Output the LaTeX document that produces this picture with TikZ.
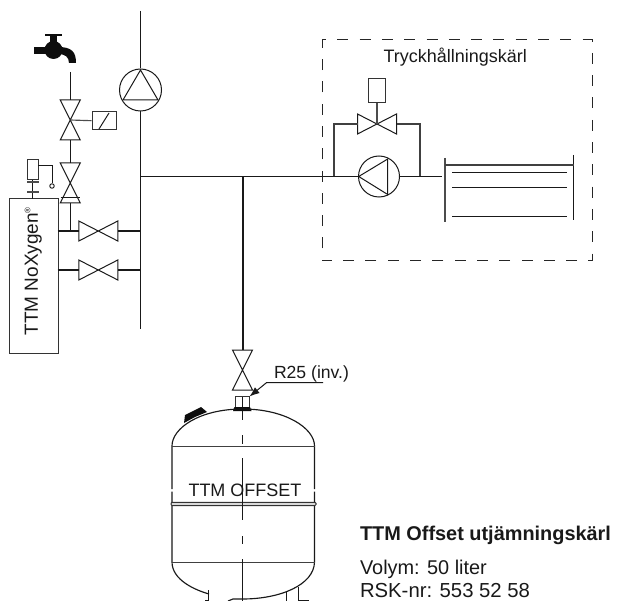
\documentclass[tikz,border=0pt]{standalone}
\usepackage{fontspec}
\setmainfont{Liberation Sans}
\usetikzlibrary{arrows.meta}
\tikzset{
  x=1pt,y=-1pt,
  ln/.style={line width=1.15pt,draw=black!90},
  thin ln/.style={line width=1pt,draw=black!90},
  box ln/.style={draw=black!80,line width=1pt,inner sep=0pt},
  txt/.style={inner sep=0pt,outer sep=0pt,text=black!90},
  vvalve/.pic={
    \draw[thin ln,line join=miter] (-10,-20) -- (10,-20) -- (-10,20) -- (10,20) -- cycle;
    \coordinate (top) at (0,-20);
    \coordinate (bot) at (0,20);
    \coordinate (c) at (0,0);
  },
  hvalve/.pic={
    \draw[thin ln,line join=miter] (-19.5,-10) -- (-19.5,10) -- (19.5,-10) -- (19.5,10) -- cycle;
    \coordinate (l) at (-19.5,0);
    \coordinate (r) at (19.5,0);
    \coordinate (c) at (0,0);
  }
}
\begin{document}
\begin{tikzpicture}
\useasboundingbox (0,0) rectangle (620,601);
% junctions
\coordinate (pipeTop) at (140.5,11);
\coordinate (pipeBot) at (140.5,329);
\coordinate (jMain) at (140.5,176.5);
\coordinate (jBranch) at (242.5,176.5);
\coordinate (jLeft) at (334,176.5);
\coordinate (jRight) at (420,176.5);
\coordinate (tankIn) at (441.5,176.5);
\coordinate (tapEnd) at (70.3,72);
\coordinate (jUpper) at (70.3,231);
\coordinate (boxU) at (57.5,231);
\coordinate (boxL) at (57.5,270);
\coordinate (mU) at (140.5,231);
\coordinate (mL) at (140.5,270);
% circulation pump
\node[circle,draw=black!90,line width=1pt,minimum size=42pt,inner sep=0pt] (p1) at (140.5,90) {};
\draw[thin ln,line join=miter] (140.5,70) -- (123,100) -- (158,100) -- cycle;
\draw[ln] (pipeTop) -- (p1.north);
\draw[ln] (p1.south) -- (pipeBot);
% tap
\fill[black!95] (45,34) rectangle (62,36);
\fill[black!95] (50,36) rectangle (57,45);
\fill[black!95] (53.5,50) circle (9);
\fill[black!95] (34,47) rectangle (48,54);
\fill[black!95] (58,47) .. controls (72,47) and (76,52) .. (76,63) -- (69,63) .. controls (69,57) and (65,54) .. (58,54) -- cycle;
% valves left
\pic (v1) at (70.3,120) {vvalve};
\pic (v2) at (70.3,183) {vvalve};
\draw[thin ln] (60.5,197.7) -- (80,197.7);
\draw[ln] (tapEnd) -- (v1top);
\draw[ln] (v1bot) -- (v2top);
\draw[ln] (v2bot) -- (jUpper);
\node[box ln,minimum width=24pt,minimum height=17.5pt] (act) at (104,120.7) {};
\draw[ln,black!70] (v1c) -- (act.west);
\draw[thin ln] (99,129) -- (109,113);
% NoXygen
\node[box ln,minimum width=49pt,minimum height=154pt] (nox) at (33.5,276) {};
\node[txt,rotate=90,anchor=base west,font=\fontsize{19}{19}\selectfont] (noxt) at (37.8,335.5) {TTM NoXygen\raisebox{7.5pt}{\fontsize{8}{8}\selectfont ®}};
\pic (v3) at (98.3,231) {hvalve};
\pic (v4) at (98.3,270) {hvalve};
\draw[ln] (boxU) -- (v3l);
\draw[ln] (v3r) -- (mU);
\draw[ln] (boxL) -- (v4l);
\draw[ln] (v4r) -- (mL);
% sensor
\node[box ln,minimum width=11pt,minimum height=20pt] (sens) at (32.8,170) {};
\node[circle,draw=black!90,line width=0.9pt,minimum size=4.5pt,inner sep=0pt] (bulb) at (52,186) {};
\coordinate (sensR) at (38.3,165.5);
\coordinate (sensK) at (52,165.5);
\coordinate (stemB) at (32.8,199);
\draw[thin ln] (sensR) -- (sensK) -- (bulb.north);
\draw[ln] (sens.south) -- (stemB);
\draw[ln,black!70] (27,182) -- (38.5,182);
\draw[ln,black!70] (27,192) -- (38.5,192);
% main line
\draw[ln] (jMain) -- (358.5,176.5);
% dashed box
\draw[line width=1pt,draw=black!85,dash pattern=on 11pt off 11.3pt] (322,47) -- (322,40) -- (592,40) -- (592,261) -- (322,261) -- cycle;
\node[txt,anchor=base west,font=\fontsize{18}{18}\selectfont] (title) at (383.5,63) {Tryckhållningskärl};
% pressure pump
\node[circle,draw=black!90,line width=1pt,minimum size=41pt,inner sep=0pt] (p2) at (379,176.5) {};
\draw[thin ln,line join=miter] (358.7,176.5) -- (387.7,159) -- (387.7,194.5) -- cycle;
\draw[ln] (p2.east) -- (tankIn);
\pic (v5) at (377,124) {hvalve};
\draw[ln,black!75] (jLeft) |- (v5l);
\draw[ln,black!75] (jRight) |- (v5r);
\node[box ln,minimum width=17.5pt,minimum height=24pt] (ctrl) at (377,91) {};
\draw[ln,black!70] (ctrl.south) -- (v5c);
% tank
\coordinate (tl1) at (445,158);
\coordinate (tl2) at (445,222);
\coordinate (tr1) at (573.7,155);
\coordinate (tr2) at (573.7,220);
\draw[ln,black!70] (tl1) -- (tl2);
\draw[ln] (tr1) -- (tr2);
\draw[ln,black!75] (445,165) -- (573.7,165);
\draw[ln] (452,172.3) -- (567,172.3);
\draw[ln] (452,187.3) -- (567,187.3);
\draw[ln] (452,216.3) -- (567,216.3);
% branch
\pic (v6) at (242.5,370) {vvalve};
\draw[line width=2pt,draw=black!90] (jBranch) -- (v6top);
% fitting
\node[box ln,minimum width=13.5pt,minimum height=11pt] (fit) at (242.5,402) {};
\draw[thin ln] (242.5,397) -- (242.5,407);
\fill[black!95] (233,411) -- (234.5,407) -- (250,407) -- (251.5,411) -- cycle;
% label R25
\node[txt,anchor=base west,font=\fontsize{17.6}{17.6}\selectfont] (r25) at (274,378.5) {R25 (inv.)};
\coordinate (la) at (323,382.5);
\coordinate (lb) at (266.7,382.5);
\draw[thin ln,-{Latex[length=10pt,width=7.5pt]}] (la) -- (lb) -- (249.5,396.5);
% vessel
\fill[black!95] (184,423) -- (185,415) -- (201,407) -- (207,412) -- (195,417) -- cycle;
\draw[ln] (172,489) -- (172,446) .. controls (172,428) and (200,409) .. (242.5,409) .. controls (285,409) and (314.5,428) .. (314.5,446) -- (314.5,489);
\draw[thin ln,black!75] (172,446) -- (314.5,446);
\draw[ln] (172,491.5) -- (172,562) .. controls (172,580) and (195,590) .. (209,594);
\draw[ln] (314.5,491.5) -- (314.5,562) .. controls (314,585) and (280,599) .. (242.5,599) -- (233,599) -- (228,601);
\draw[thin ln,black!75] (172,562) -- (314.5,562);
\draw[line width=1pt,draw=black!80,fill=black!15,rounded corners=1pt] (171,502.3) rectangle (316,505.5);
\draw[ln] (208.5,590) -- (208.5,601);
\draw[ln] (205,600.5) -- (208.5,600.5);
\draw[thin ln] (286,591) -- (286,601);
\draw[thin ln] (298,587) -- (298,601);
\draw[thin ln] (298,600.3) -- (309,600.3);
% centre line
\draw[thin ln] (242.5,411) -- (242.5,420);
\draw[thin ln] (242.5,435) -- (242.5,444);
\draw[thin ln] (242.5,458) -- (242.5,520);
\draw[thin ln] (242.5,536) -- (242.5,544);
\draw[thin ln] (242.5,559) -- (242.5,601);
\node[txt,anchor=base west,font=\fontsize{18}{18}\selectfont] (off) at (188.5,496) {TTM OFFSET};
% caption
\node[txt,anchor=base west,font=\fontsize{19.9}{19.9}\selectfont\bfseries] (cap) at (360,540.5) {TTM Offset utjämningskärl};
\node[txt,anchor=base west,font=\fontsize{19.9}{19.9}\selectfont] (cap1) at (360,574) {Volym: 50 liter};
\node[txt,anchor=base west,font=\fontsize{20.3}{20.3}\selectfont] (cap2) at (360,597) {RSK-nr: 553 52 58};
\end{tikzpicture}
\end{document}
